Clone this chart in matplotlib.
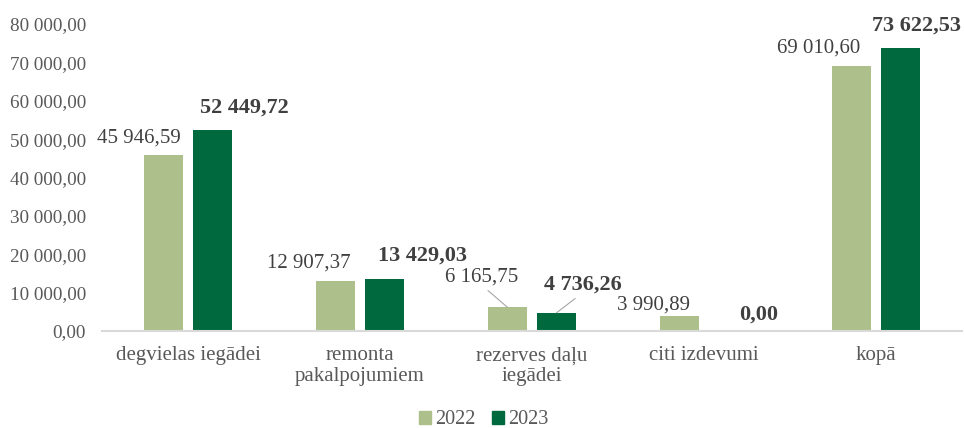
import matplotlib.pyplot as plt
from matplotlib.patches import Patch
import numpy as np

plt.rcParams['font.family'] = ['Liberation Serif', 'DejaVu Serif']

categories = ['degvielas iegādei', 'remonta\npakalpojumiem', 'rezerves daļu\niegādei',
              'citi izdevumi', 'kopā']
values_2022 = [45946.59, 12907.37, 6165.75, 3990.89, 69010.60]
values_2023 = [52449.72, 13429.03, 4736.26, 0.00, 73622.53]

# label offsets in pixels (dx, dy) relative to bar top centre
offs_2022 = [(-25, 17), (-27, 18), (-26, 30), (-26, 11), (-33, 18)]
offs_2023 = [(32, 22), (38, 24), (26, 28), (30, 16), (16, 23)]
leader = [False, False, True, False, False]

c22 = '#adbf8a'
c23 = '#006a3e'
txt = '#404040'


def fmt(v):
    s = f'{v:,.2f}'
    return s.replace(',', ' ').replace('.', ',')


fig = plt.figure(figsize=(9.64, 4.28), dpi=100)
ax = fig.add_axes([102 / 964, 97 / 428, 860 / 964, 307 / 428])

x = np.arange(len(categories))
w = 0.227
off = 0.1425
b1 = ax.bar(x - off, values_2022, w, color=c22)
b2 = ax.bar(x + off, values_2023, w, color=c23)

ax.set_xlim(-0.5, len(categories) - 0.5)
ax.set_ylim(0, 80000)
ax.set_yticks(np.arange(0, 80001, 10000))
ax.set_yticklabels([fmt(t) for t in np.arange(0, 80001, 10000)])
ax.set_xticks(x)
ax.set_xticklabels(categories, linespacing=1.15)
ax.tick_params(axis='y', length=0, labelsize=13.8, labelcolor='#595959', pad=11.5)
ax.tick_params(axis='x', length=0, labelsize=15, labelcolor='#595959', pad=11)

for s in ['top', 'right', 'left']:
    ax.spines[s].set_visible(False)
ax.spines['bottom'].set_color('#d9d9d9')
ax.spines['bottom'].set_linewidth(1.5)

line_props = dict(arrowstyle='-', color='#a6a6a6', lw=0.8, shrinkA=1, shrinkB=0,
                  relpos=(0.5, 0.1))
for i in range(len(categories)):
    for bars, vals, offs, bold in ((b1, values_2022, offs_2022, False),
                                   (b2, values_2023, offs_2023, True)):
        r = bars[i]
        xc = r.get_x() + r.get_width() / 2
        ax.annotate(fmt(vals[i]), xy=(xc, vals[i]), xytext=offs[i],
                    textcoords='offset pixels', ha='center', va='center',
                    fontsize=16 if bold else 15,
                    fontweight='bold' if bold else 'normal', color=txt,
                    arrowprops=line_props if leader[i] else None)

handles = [Patch(color=c22, label='2022'), Patch(color=c23, label='2023')]
fig.legend(handles=handles, loc='center', bbox_to_anchor=(484 / 964, 1 - 420 / 428),
           ncol=2, frameon=False, fontsize=14.6, handlelength=0.6, handleheight=0.6,
           handletextpad=0.2, columnspacing=0.8, labelcolor='#595959')

fig.savefig('out.png', dpi=100)
